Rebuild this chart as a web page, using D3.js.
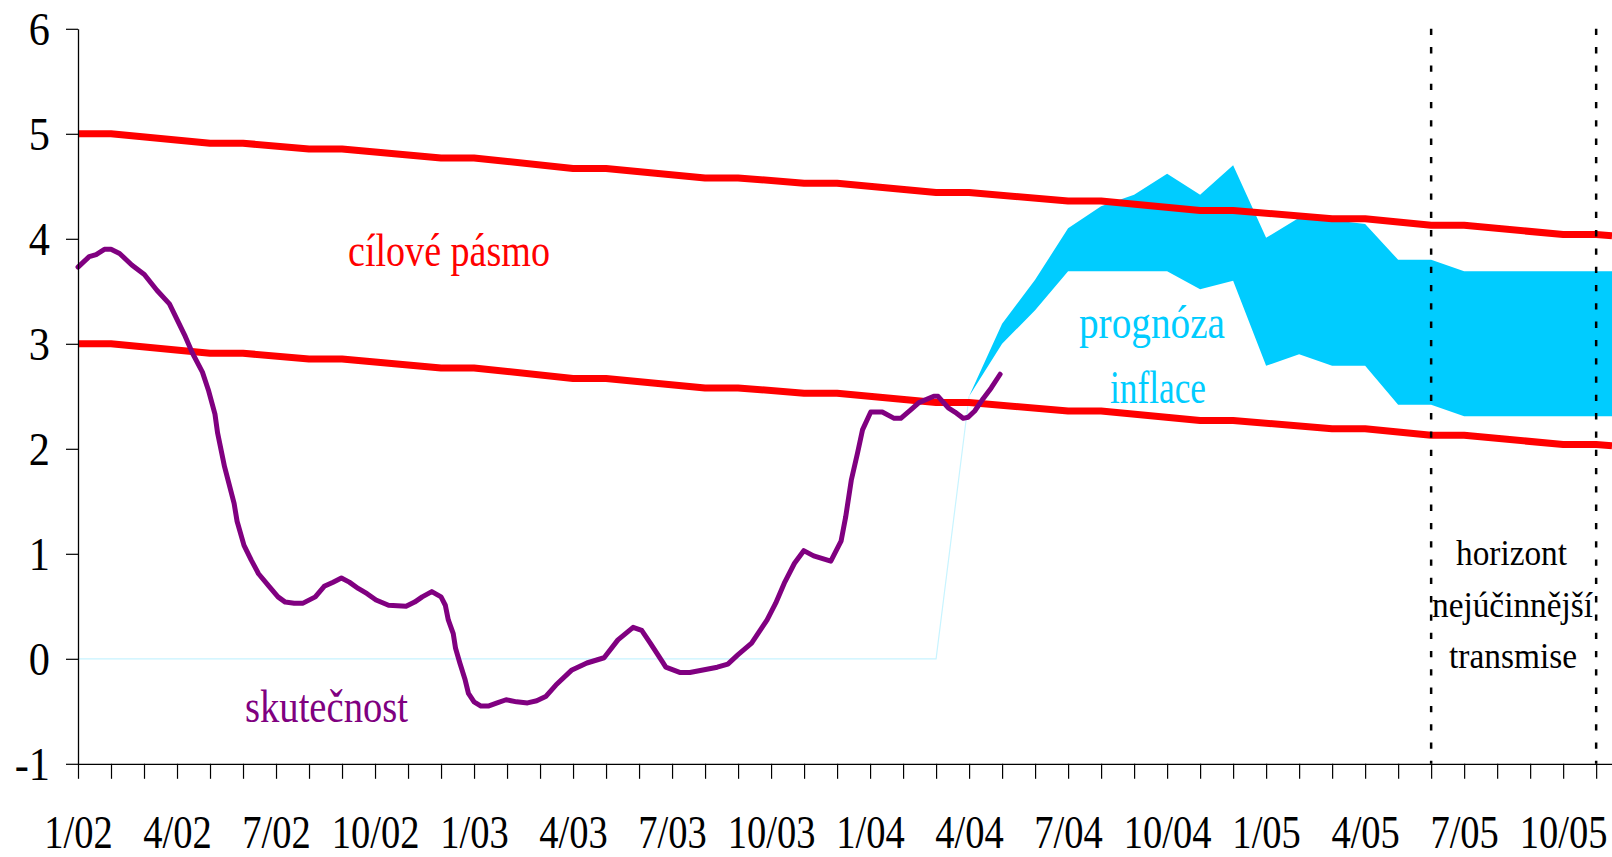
<!DOCTYPE html>
<html><head><meta charset="utf-8">
<script src="https://d3js.org/d3.v7.min.js"></script>
<style>html,body{margin:0;padding:0;background:#fff;overflow:hidden}svg{display:block}text{font-family:"Liberation Serif","DejaVu Serif",serif}</style>
</head><body>
<svg id="c" width="1612" height="857"></svg>
<script>
// ---- data (month index: 0 = 1/02) ----
const tickLabels = ["1/02","4/02","7/02","10/02","1/03","4/03","7/03","10/03","1/04","4/04","7/04","10/04","1/05","4/05","7/05","10/05"];
const yTicks = [-1,0,1,2,3,4,5,6];

const targetMonths = [0,1,4,5,7,8,11,12,15,16,19,20,22,23,26,27,30,31,34,35,38,39,41,42,45,46,46.48];
const targetUpper  = [5.0,5.0,4.91,4.91,4.855,4.855,4.77,4.77,4.67,4.67,4.58,4.58,4.53,4.53,4.44,4.44,4.36,4.36,4.27,4.27,4.19,4.19,4.13,4.13,4.04,4.04,4.03];
const targetLower  = [3.0,3.0,2.91,2.91,2.855,2.855,2.77,2.77,2.67,2.67,2.58,2.58,2.53,2.53,2.44,2.44,2.36,2.36,2.27,2.27,2.19,2.19,2.13,2.13,2.04,2.04,2.03];

const forecastMonths = [27,28,29,30,31,32,33,34,35,36,37,38,39,40,41,42,46.48];
const forecastUpper  = [2.5,3.19,3.61,4.10,4.31,4.42,4.62,4.42,4.70,4.01,4.20,4.18,4.14,3.80,3.80,3.69,3.69];
const forecastLower  = [2.5,3.00,3.32,3.69,3.69,3.69,3.69,3.52,3.60,2.79,2.90,2.79,2.79,2.42,2.42,2.31,2.31];

const baseMonths = [0,26,27];
const baseValues = [0,0,2.5];

const actualMonths = [0,0.34,0.55,0.8,1.0,1.26,1.63,2.01,2.39,2.77,3.25,3.47,3.77,3.96,4.15,4.23,4.44,4.73,4.82,5.03,5.25,5.47,5.79,6.06,6.28,6.55,6.82,7.19,7.46,7.73,7.98,8.22,8.49,8.76,9.03,9.41,9.94,10.2,10.43,10.72,11.0,11.13,11.22,11.37,11.44,11.57,11.73,11.83,12.0,12.21,12.43,12.7,12.97,13.29,13.62,13.9,14.17,14.48,14.95,15.42,15.94,16.36,16.82,17.08,17.34,17.71,17.81,18.23,18.54,19.37,19.69,20.0,20.41,20.88,21.14,21.4,21.71,21.99,22.29,22.81,23.12,23.26,23.43,23.62,23.77,24.02,24.37,24.73,24.93,25.23,25.48,25.93,26.06,26.37,26.57,26.82,26.97,27.17,27.43,27.67,27.94];
const actualValues = [3.73,3.83,3.85,3.90,3.90,3.86,3.75,3.66,3.51,3.38,3.07,2.91,2.73,2.55,2.33,2.15,1.83,1.48,1.31,1.08,0.94,0.81,0.69,0.59,0.54,0.53,0.53,0.59,0.69,0.73,0.77,0.73,0.67,0.62,0.56,0.51,0.50,0.54,0.59,0.64,0.59,0.51,0.37,0.24,0.10,-0.04,-0.20,-0.33,-0.41,-0.45,-0.45,-0.42,-0.39,-0.41,-0.42,-0.40,-0.36,-0.25,-0.11,-0.04,0.01,0.18,0.30,0.27,0.15,-0.03,-0.08,-0.13,-0.13,-0.08,-0.05,0.04,0.15,0.37,0.53,0.72,0.91,1.03,0.98,0.93,1.12,1.35,1.70,1.96,2.18,2.35,2.35,2.29,2.29,2.37,2.44,2.50,2.50,2.39,2.35,2.29,2.30,2.36,2.48,2.58,2.71];

const horizonMonths = [41,46];

// ---- chart ----
const FONT = "Liberation Serif, DejaVu Serif, serif";
const svg = d3.select("#c");
const x = d3.scaleLinear().domain([0,46.48]).range([78,1612]);
const y = d3.scaleLinear().domain([-1,6]).range([763.8,28.8]);

// forecast fan
const area = d3.area().x(d=>x(d[0])).y0(d=>y(d[2])).y1(d=>y(d[1]));
svg.append("path")
  .datum(forecastMonths.map((m,i)=>[m,forecastUpper[i],forecastLower[i]]))
  .attr("d",area).attr("fill","#00CCFF");

// thin base line of the fan
const line = d3.line().x(d=>x(d[0])).y(d=>y(d[1]));
svg.append("path")
  .datum(baseMonths.map((m,i)=>[m,baseValues[i]]))
  .attr("d",line).attr("fill","none").attr("stroke","#C8F4FF").attr("stroke-width",1.2);

// target band
[targetUpper,targetLower].forEach(vals=>{
  svg.append("path")
    .datum(targetMonths.map((m,i)=>[m,vals[i]]))
    .attr("d",line).attr("fill","none").attr("stroke","#FF0000")
    .attr("stroke-width",7).attr("stroke-linejoin","round");
});

// actual inflation
svg.append("path")
  .datum(actualMonths.map((m,i)=>[m,actualValues[i]]))
  .attr("d",line).attr("fill","none").attr("stroke","#800080")
  .attr("stroke-width",5).attr("stroke-linejoin","round").attr("stroke-linecap","round");

// horizon dashed lines
svg.selectAll("line.hz").data(horizonMonths).enter().append("line")
  .attr("class","hz")
  .attr("x1",d=>x(d)).attr("x2",d=>x(d))
  .attr("y1",y(6)).attr("y2",y(-1))
  .attr("stroke","#000").attr("stroke-width",2.5).attr("stroke-dasharray","6.3,12");

// axes
const yAxis = d3.axisLeft(y).tickValues(yTicks).tickSize(12).tickSizeOuter(0).tickFormat("");
const gy = svg.append("g").attr("transform",`translate(${x(0)},0)`).call(yAxis);
gy.select(".domain").attr("stroke","#000").attr("stroke-width",1.3);
gy.selectAll(".tick line").attr("stroke","#000").attr("stroke-width",1.2);
gy.selectAll(".tick").append("text")
  .attr("transform","scale(0.9,1)")
  .attr("x",-28/0.9).attr("y",16)
  .attr("text-anchor","end").attr("fill","#000")
  .attr("font-family",FONT).attr("font-size",47)
  .text(d=>d);

const xAxis = d3.axisBottom(x).tickValues(d3.range(0,47)).tickSize(15).tickSizeOuter(0).tickFormat("");
const gx = svg.append("g").attr("transform",`translate(0,${y(-1)})`).call(xAxis);
gx.select(".domain").attr("stroke","#000").attr("stroke-width",1.3);
gx.selectAll(".tick line").attr("stroke","#000").attr("stroke-width",1.2);
gx.selectAll(".tick").filter(d=>d%3===0).append("text")
  .attr("transform","scale(0.82,1)")
  .attr("x",0).attr("y",84)
  .attr("text-anchor","middle").attr("fill","#000")
  .attr("font-family",FONT).attr("font-size",47)
  .text(d=>tickLabels[d/3]);

// annotations
function label(txt,x0,x1,base,size,color){
  svg.append("text").attr("x",x0).attr("y",base)
    .attr("textLength",x1-x0).attr("lengthAdjust","spacingAndGlyphs")
    .attr("fill",color).attr("font-family",FONT).attr("font-size",size)
    .text(txt);
}
label("cílové pásmo",348,550,266,47,"#FF0000");
label("skutečnost",245,408,721.5,46,"#800080");
label("prognóza",1079,1225,338,47,"#00CCFF");
label("inflace",1110,1206,402.5,47,"#00CCFF");
label("horizont",1456,1567,565,36,"#000");
label("nejúčinnější",1432,1593,616.5,36,"#000");
label("transmise",1449,1577,668,36,"#000");
</script>
</body></html>
